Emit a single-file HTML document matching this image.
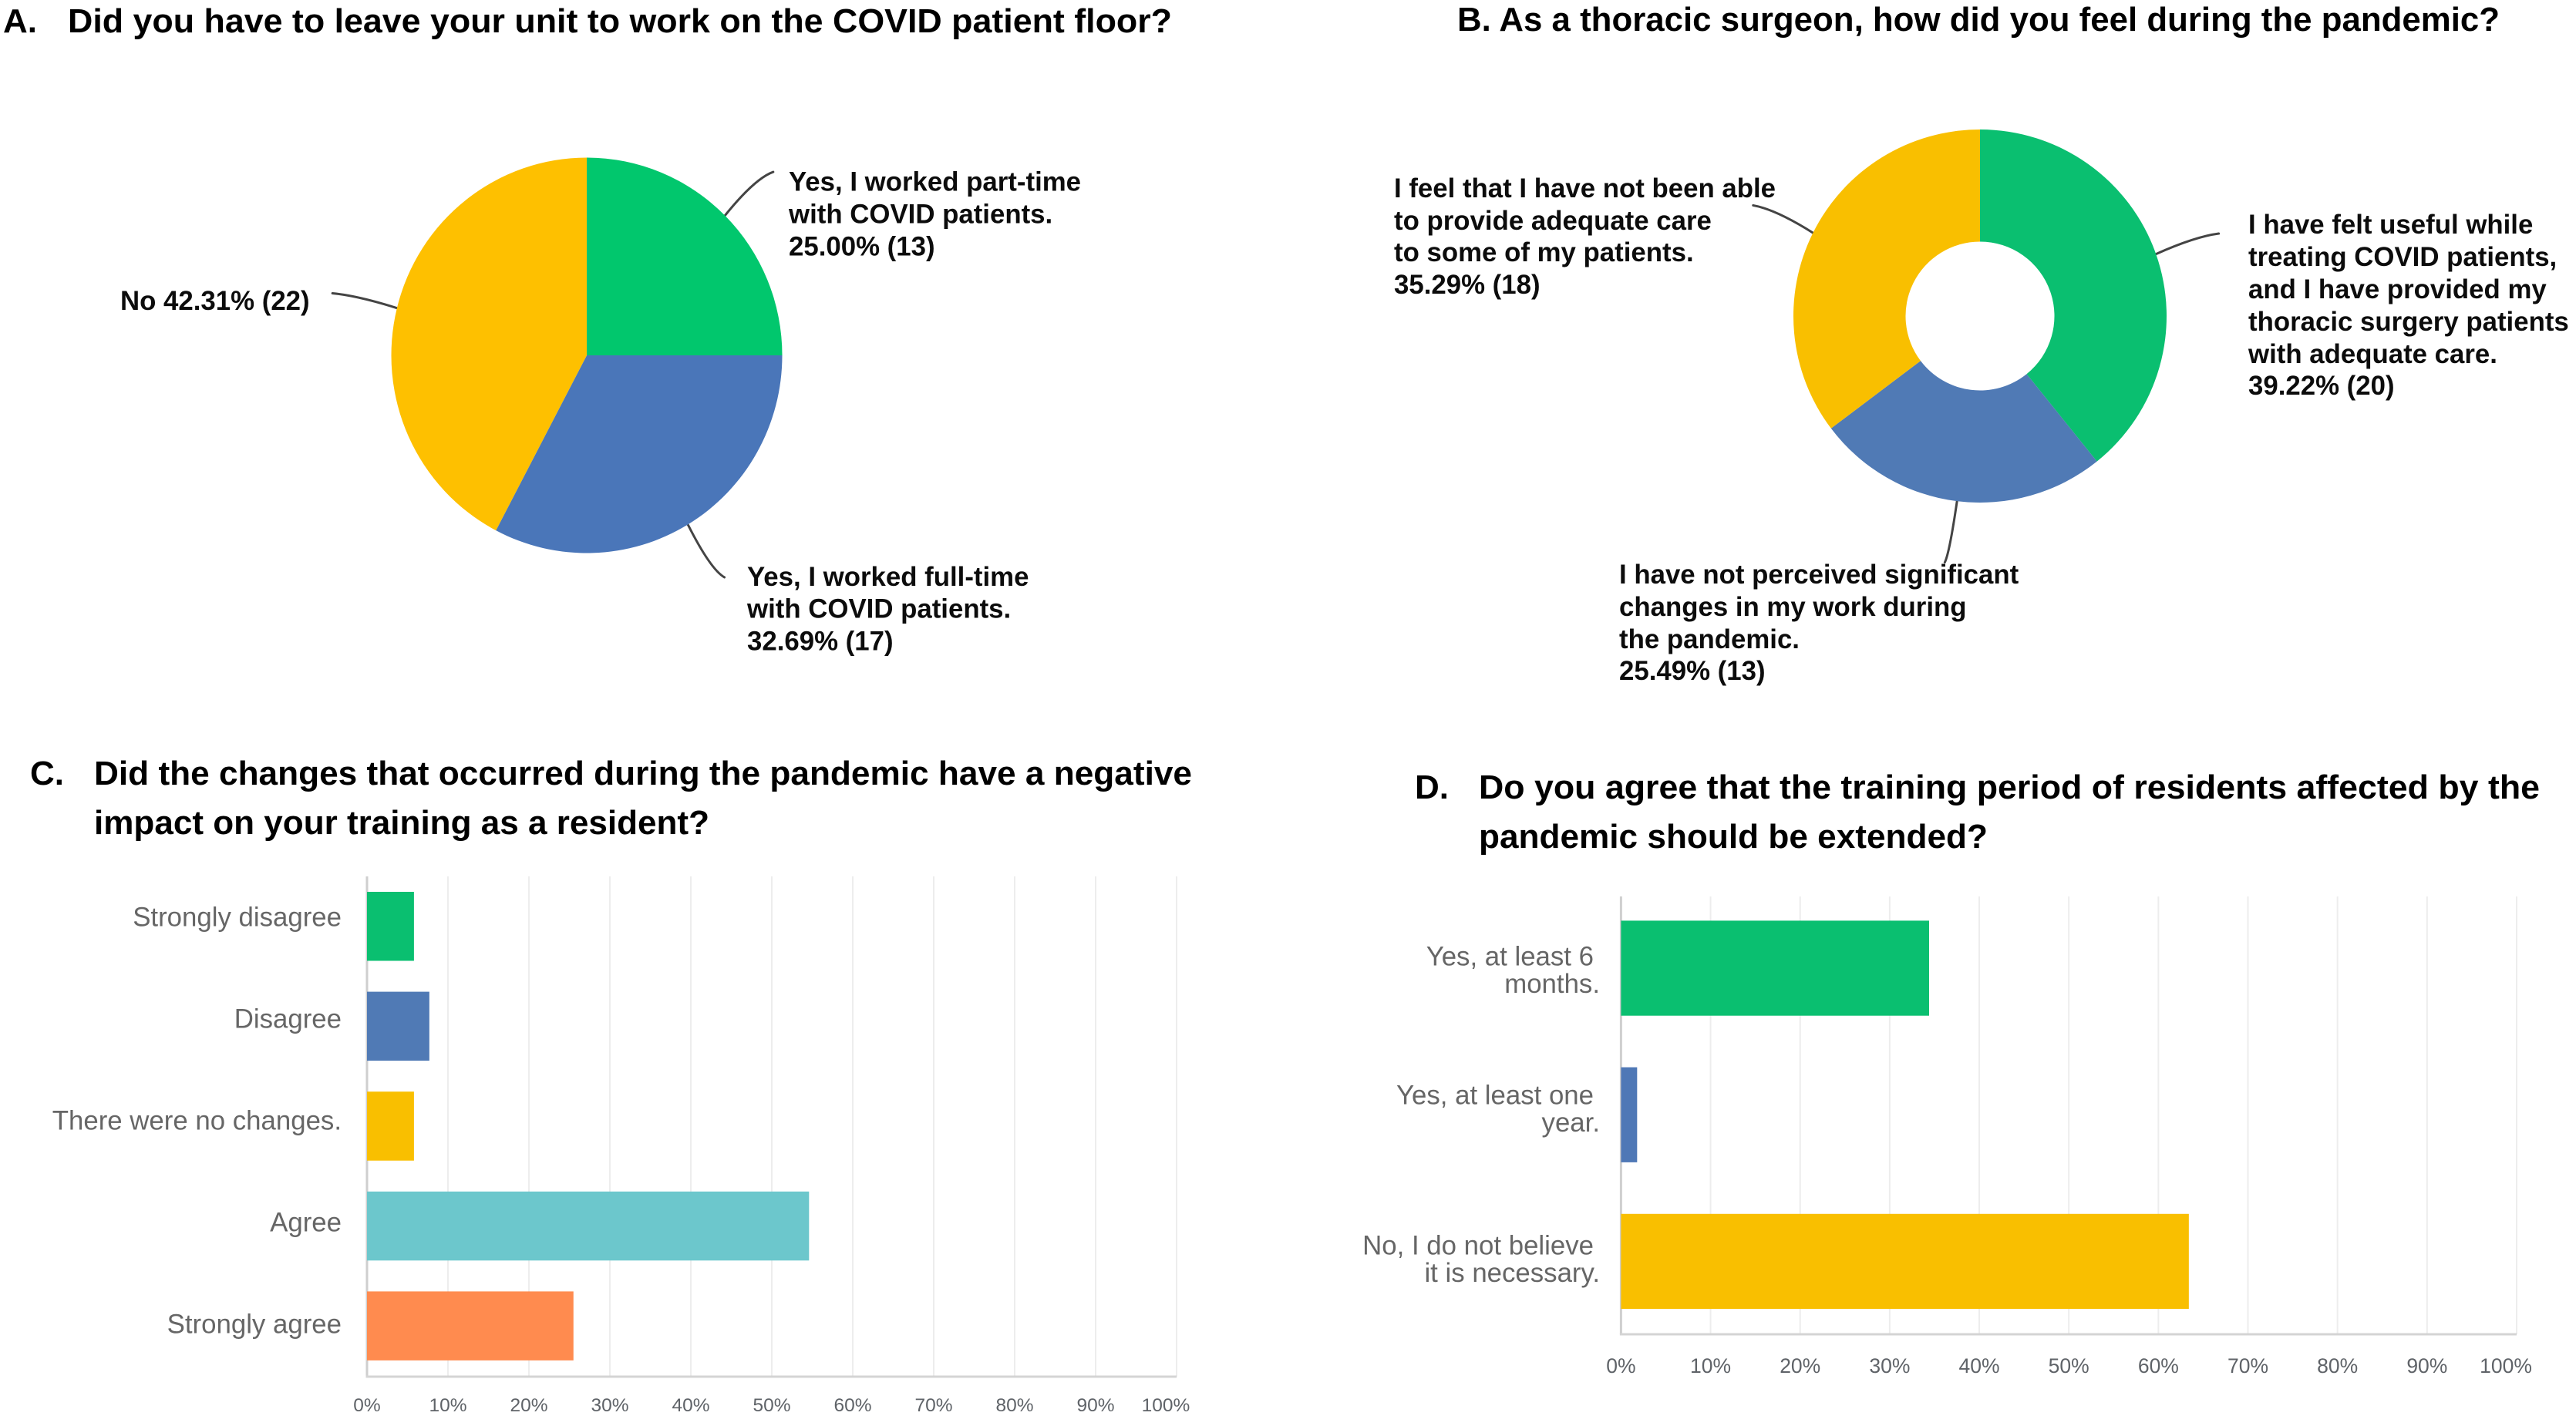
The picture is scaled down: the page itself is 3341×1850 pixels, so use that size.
<!DOCTYPE html>
<html lang="en">
<head>
<meta charset="utf-8">
<title>COVID survey of thoracic surgery residents</title>
<style>
  html, body { margin: 0; padding: 0; background: #fff; width: 3341px; height: 1850px; overflow: hidden; }
  svg { display: block; }
  text { font-family: "Liberation Sans", sans-serif; }
  .title { font-size: 44px; font-weight: bold; fill: #000; }
  .label { font-size: 34.8px; font-weight: bold; fill: #0c0c0c; }
  .cat { font-size: 34.8px; fill: #666; text-anchor: end; }
  .tick-c { font-size: 24.5px; fill: #5f6368; text-anchor: middle; }
  .tick-d { font-size: 26.5px; fill: #5f6368; text-anchor: middle; }
</style>
</head>
<body>
<svg id="figure" xmlns="http://www.w3.org/2000/svg" width="3341" height="1850" viewBox="0 0 3341 1850">
  <rect width="3341" height="1850" fill="#fff"/>

  <g id="panel-a">
    <text class="title" x="4" y="42">A.</text>
    <text class="title" x="88" y="42" textLength="1432" lengthAdjust="spacingAndGlyphs">Did you have to leave your unit to work on the COVID patient floor?</text>
    <text class="label"><tspan x="1023" y="247.5">Yes, I worked part-time</tspan><tspan x="1023" y="289.5">with COVID patients.</tspan><tspan x="1023" y="331.5">25.00% (13)</tspan></text>
    <text class="label" x="156" y="402">No 42.31% (22)</text>
    <text class="label"><tspan x="969" y="760">Yes, I worked full-time</tspan><tspan x="969" y="801.5">with COVID patients.</tspan><tspan x="969" y="843.5">32.69% (17)</tspan></text>
  </g>

  <g id="panel-b">
    <text class="title" x="1890" y="40" textLength="1352" lengthAdjust="spacingAndGlyphs">B. As a thoracic surgeon, how did you feel during the pandemic?</text>
    <text class="label"><tspan x="1808" y="256">I feel that I have not been able</tspan><tspan x="1808" y="298">to provide adequate care</tspan><tspan x="1808" y="339">to some of my patients.</tspan><tspan x="1808" y="381">35.29% (18)</tspan></text>
    <text class="label"><tspan x="2916" y="303">I have felt useful while</tspan><tspan x="2916" y="345">treating COVID patients,</tspan><tspan x="2916" y="387">and I have provided my</tspan><tspan x="2916" y="429">thoracic surgery patients</tspan><tspan x="2916" y="471">with adequate care.</tspan><tspan x="2916" y="512">39.22% (20)</tspan></text>
    <text class="label"><tspan x="2100" y="757">I have not perceived significant</tspan><tspan x="2100" y="799">changes in my work during</tspan><tspan x="2100" y="841">the pandemic.</tspan><tspan x="2100" y="882">25.49% (13)</tspan></text>
  </g>

  <g id="panel-c">
    <text class="title" x="39" y="1018">C.</text>
    <text class="title" x="122" y="1018" textLength="1424" lengthAdjust="spacingAndGlyphs">Did the changes that occurred during the pandemic have a negative</text>
    <text class="title" x="122" y="1082" textLength="798" lengthAdjust="spacingAndGlyphs">impact on your training as a resident?</text>
  </g>

  <g id="panel-d">
    <text class="title" x="1835" y="1036">D.</text>
    <text class="title" x="1918" y="1036" textLength="1376" lengthAdjust="spacingAndGlyphs">Do you agree that the training period of residents affected by the</text>
    <text class="title" x="1918" y="1100" textLength="660" lengthAdjust="spacingAndGlyphs">pandemic should be extended?</text>
  </g>
</svg>

<script>
// ---- Chart data ----
const pieACategories = ["part-time", "full-time", "no"];
const pieAValues = [25.00, 32.69, 42.31];
const pieAColors = ["#01c76d", "#4a76b9", "#fec000"];

const donutBCategories = ["useful", "no-changes", "inadequate-care"];
const donutBValues = [39.22, 25.49, 35.29];
const donutBColors = ["#0abf70", "#507ab5", "#f9bf00"];

const barCCategories = ["Strongly disagree", "Disagree", "There were no changes.", "Agree", "Strongly agree"];
const barCValues = [5.8, 7.7, 5.8, 54.6, 25.5];
const barCColors = ["#0abf70", "#507ab5", "#f9bf00", "#6cc7cc", "#ff8b4f"];

const barDCategories = [["Yes, at least 6", "months."], ["Yes, at least one", "year."], ["No, I do not believe", "it is necessary."]];
const barDValues = [34.4, 1.8, 63.4];
const barDColors = ["#0abf70", "#4f78b6", "#f9bf00"];

const tickValues = [0, 10, 20, 30, 40, 50, 60, 70, 80, 90, 100];
const tickLabels = ["0%", "10%", "20%", "30%", "40%", "50%", "60%", "70%", "80%", "90%", "100%"];

// ---- Helpers ----
const NS = "http://www.w3.org/2000/svg";
function make(tag, parent, attrs) {
  const el = document.createElementNS(NS, tag);
  for (const k in attrs) el.setAttribute(k, attrs[k]);
  parent.appendChild(el);
  return el;
}
function polar(g, extra, deg) {
  const a = deg * Math.PI / 180;
  return [g.cx + (g.rx + extra) * Math.sin(a), g.cy - (g.ry + extra) * Math.cos(a)];
}
function innerPoint(g, deg) {
  const a = deg * Math.PI / 180;
  return [g.cx + g.inner * Math.sin(a), g.cy - g.inner * Math.cos(a)];
}
function slicePath(g, a0, a1) {
  const large = a1 - a0 > 180 ? 1 : 0;
  const p0 = polar(g, 0, a0), p1 = polar(g, 0, a1);
  if (g.inner > 0) {
    const q1 = innerPoint(g, a1), q0 = innerPoint(g, a0);
    return `M${p0} A${g.rx},${g.ry} 0 ${large} 1 ${p1} L${q1} A${g.inner},${g.inner} 0 ${large} 0 ${q0} Z`;
  }
  return `M${g.cx},${g.cy} L${p0} A${g.rx},${g.ry} 0 ${large} 1 ${p1} Z`;
}

function drawRing(panelId, prefix, categories, values, colors, g) {
  const host = document.getElementById(panelId);
  const total = values.reduce((a, b) => a + b, 0);
  let acc = 0;
  values.forEach((v, i) => {
    const a0 = acc / total * 360;
    acc += v;
    const a1 = acc / total * 360;
    const mid = (a0 + a1) / 2;

    // Leader: leaves the slice radially and flattens towards horizontal at its tip
    const s = polar(g, 0, mid);
    const e = polar(g, g.lead, mid);
    e[0] += Math.sign(e[0] - g.cx) * 6;
    const c = [s[0] + (e[0] - s[0]) * 0.62, s[1] + (e[1] - s[1]) * 0.85];
    const leader = make("path", host, { d: `M${s} Q${c} ${e}`, fill: "none", stroke: "#444", "stroke-width": 3, "stroke-linecap": "round" });
    
    

    const slice = make("path", host, { d: slicePath(g, a0, a1), fill: colors[i] });
    
    
  });
}

function drawAxes(host, prefix, g, tickClass, tickBase, lastShift) {
  const x = v => g.x0 + (g.x100 - g.x0) * v / 100;
  tickValues.forEach((v, i) => {
    const grid = make("line", host, { x1: x(v), x2: x(v), y1: g.top, y2: g.bottom, stroke: v === 0 ? "#cfcfcf" : "#ededed", "stroke-width": v === 0 ? 3 : 2 });
    
    

    const shift = i === tickValues.length - 1 ? lastShift : 0;
    const t = make("text", host, { class: tickClass, x: x(v) + shift, y: tickBase });
    t.textContent = tickLabels[i];
    
    
  });
  const base = make("line", host, { x1: g.x0 - 1.5, x2: g.x100, y1: g.bottom, y2: g.bottom, stroke: "#d4d4d4", "stroke-width": 3 });
  
  
  return x;
}

// ---- Panel A: pie ----
drawRing("panel-a", "pie", pieACategories, pieAValues, pieAColors, { cx: 761, cy: 461, rx: 253.5, ry: 256.5, inner: 0, lead: 80 });

// ---- Panel B: donut ----
drawRing("panel-b", "donut", donutBCategories, donutBValues, donutBColors, { cx: 2568, cy: 410, rx: 242, ry: 242, inner: 96.5, lead: 80 });

// ---- Panel C: horizontal bars ----
(function () {
  const host = document.getElementById("panel-c");
  const g = { x0: 476, x100: 1526, top: 1137, bottom: 1786 };
  const x = drawAxes(host, "bar-c", g, "tick-c", 1831, -14);
  barCValues.forEach((v, i) => {
    const bar = make("rect", host, { x: x(0), y: 1157 + 129.6 * i, width: x(v) - x(0), height: 89.5, fill: barCColors[i] });
    
    

    const t = make("text", host, { class: "cat", x: 443, y: 1201.5 + 132 * i });
    t.textContent = barCCategories[i];
    
    
  });
})();

// ---- Panel D: horizontal bars ----
(function () {
  const host = document.getElementById("panel-d");
  const g = { x0: 2102.4, x100: 3264, top: 1163, bottom: 1731 };
  const x = drawAxes(host, "bar-d", g, "tick-d", 1781, -14);
  const labelTop = [0, 180, 375];
  barDValues.forEach((v, i) => {
    const bar = make("rect", host, { x: x(0), y: 1194.4 + 190.2 * i, width: x(v) - x(0), height: 123.3, fill: barDColors[i] });
    
    

    barDCategories[i].forEach((line, j) => {
      const t = make("text", host, { class: "cat", x: j === 0 ? 2067 : 2075, y: 1252.5 + labelTop[i] + 35.6 * j });
      t.textContent = line;
      
      
    });
  });
})();
</script>
</body>
</html>
